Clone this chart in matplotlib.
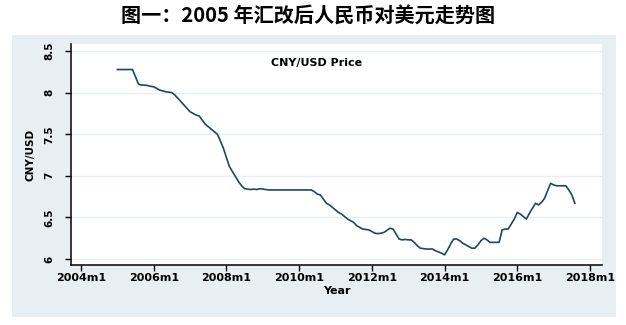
import numpy as np
import matplotlib.pyplot as plt
from matplotlib.patches import Rectangle

# CNY per USD, monthly, 2005m1 - 2017m8
cny_usd = [
    8.277, 8.277, 8.277, 8.277, 8.277, 8.277, 8.19, 8.10, 8.09, 8.09, 8.085, 8.075,    # 2005
    8.07, 8.05, 8.03, 8.02, 8.01, 8.005, 8.00, 7.97, 7.93, 7.89, 7.85, 7.81,          # 2006
    7.77, 7.75, 7.73, 7.72, 7.67, 7.62, 7.59, 7.56, 7.53, 7.50, 7.42, 7.33,           # 2007
    7.22, 7.11, 7.05, 6.99, 6.93, 6.88, 6.845, 6.84, 6.835, 6.84, 6.835, 6.845,       # 2008
    6.84, 6.835, 6.83, 6.83, 6.83, 6.83, 6.83, 6.83, 6.83, 6.83, 6.83, 6.83,          # 2009
    6.83, 6.83, 6.83, 6.83, 6.83, 6.81, 6.78, 6.77, 6.72, 6.67, 6.65, 6.62,           # 2010
    6.59, 6.56, 6.54, 6.51, 6.48, 6.46, 6.44, 6.40, 6.38, 6.36, 6.355, 6.35,          # 2011
    6.33, 6.31, 6.305, 6.31, 6.32, 6.345, 6.37, 6.36, 6.30, 6.24, 6.23, 6.235,        # 2012
    6.23, 6.23, 6.20, 6.16, 6.13, 6.125, 6.12, 6.12, 6.12, 6.10, 6.085, 6.07,         # 2013
    6.05, 6.11, 6.18, 6.24, 6.24, 6.22, 6.19, 6.17, 6.15, 6.13, 6.13, 6.17,           # 2014
    6.22, 6.25, 6.23, 6.20, 6.20, 6.20, 6.20, 6.35, 6.36, 6.36, 6.42, 6.48,           # 2015
    6.56, 6.54, 6.51, 6.48, 6.55, 6.61, 6.67, 6.65, 6.68, 6.73, 6.82, 6.91,           # 2016
    6.89, 6.88, 6.88, 6.88, 6.88, 6.83, 6.77, 6.67,                                   # 2017
]
start_year = 2005
tick_years = [2004, 2006, 2008, 2010, 2012, 2014, 2016, 2018]
tick_labels = ["2004m1", "2006m1", "2008m1", "2010m1", "2012m1", "2014m1", "2016m1", "2018m1"]
y_ticks = [6, 6.5, 7, 7.5, 8, 8.5]
y_labels = ["6", "6.5", "7", "7.5", "8", "8.5"]

t = start_year + np.arange(len(cny_usd)) / 12

W, H = 626, 325
fig = plt.figure(figsize=(W / 100, H / 100), dpi=100)
fig.patch.set_facecolor("white")

# stata-like graph region behind the plot
fig.add_artist(Rectangle((12 / W, 1 - 317 / H), 604 / W, 282 / H,
                         transform=fig.transFigure, facecolor="#e8eff2",
                         edgecolor="none", zorder=-5))

ax = fig.add_axes([71 / W, 1 - 265 / H, 531 / W, 221 / H])
ax.set_zorder(2)
ax.set_facecolor("white")
ax.plot(t, cny_usd, color="#1a476f", linewidth=1.2, zorder=3)

ax.set_xlim(2003.725, 2018.33)
ax.set_ylim(5.928, 8.584)
ax.set_xticks(tick_years)
ax.set_xticklabels(tick_labels, fontsize=8, fontweight="bold", family="DejaVu Sans")
ax.set_yticks(y_ticks)
ax.set_yticklabels(y_labels, fontsize=7.5, fontweight="bold", family="DejaVu Sans",
                   rotation=90, va="center")
ax.tick_params(axis="x", direction="out", length=4, width=1, pad=1.5)
ax.tick_params(axis="y", direction="out", length=4, width=1, pad=8)

ax.grid(axis="y", color="#e8eff2", linewidth=1)
ax.set_axisbelow(True)
for side in ("top", "right"):
    ax.spines[side].set_visible(False)
for side in ("left", "bottom"):
    ax.spines[side].set_linewidth(1.1)

ax.set_xlabel("Year", fontsize=8, fontweight="bold", family="DejaVu Sans")
ax.xaxis.set_label_coords(0.5, -0.095)
ax.set_ylabel("CNY/USD", fontsize=7.5, fontweight="bold", family="DejaVu Sans")
ax.yaxis.set_label_coords(-0.066, 0.5)

fig.text(317 / W, 1 - 63 / H, "CNY/USD Price", fontsize=8, fontweight="bold",
         family="DejaVu Sans", ha="center", va="center", zorder=5)

fig.text(308 / W, 1 - 15 / H, "图一：2005 年汇改后人民币对美元走势图",
         fontsize=14.5, fontweight="bold", family=["Noto Sans CJK SC", "DejaVu Sans"],
         ha="center", va="center")

fig.savefig("out.png", dpi=100)
plt.close(fig)
